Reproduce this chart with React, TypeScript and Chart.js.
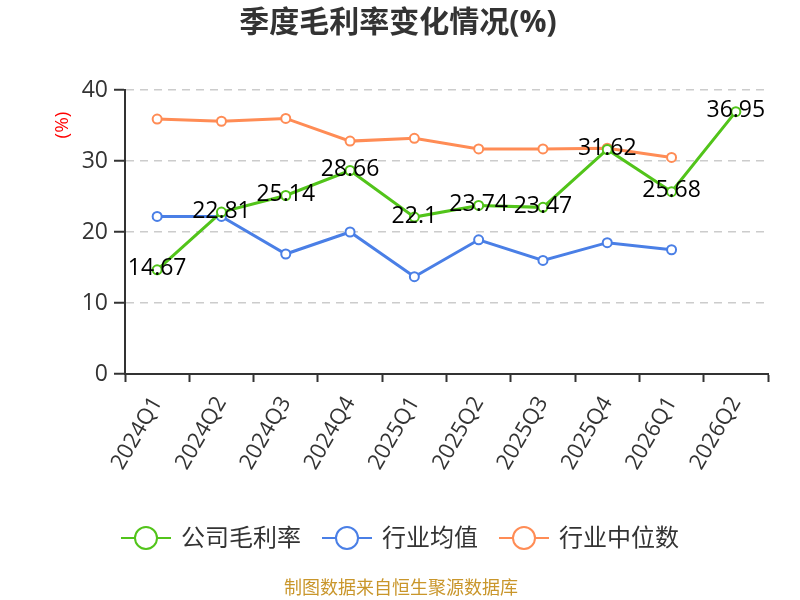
import React, { useEffect, useRef } from "react";
import { Chart, registerables } from "chart.js";

Chart.register(...registerables);

const categories = ["2024Q1", "2024Q2", "2024Q3", "2024Q4", "2025Q1", "2025Q2", "2025Q3", "2025Q4", "2026Q1", "2026Q2"];
const companyMargin = [14.67, 22.81, 25.14, 28.66, 22.1, 23.74, 23.47, 31.62, 25.68, 36.95];
const industryAvg = [22.2, 22.2, 16.9, 20.0, 13.7, 18.9, 16.0, 18.5, 17.5, null];
const industryMedian = [35.9, 35.6, 36.0, 32.8, 33.2, 31.7, 31.7, 31.8, 30.5, null];
const seriesNames = ["公司毛利率", "行业均值", "行业中位数"];
const seriesColors = ["#52C41A", "#4A7FE6", "#FF8C55"];
const titleText = "季度毛利率变化情况(%)";
const unitText = "(%)";
const footerText = "制图数据来自恒生聚源数据库";

const FONT = "'Open Sans', 'Noto Sans CJK SC', sans-serif";

const overlayPlugin = {
  id: "overlay",
  afterDatasetsDraw(chart: any) {
    const ctx = chart.ctx;
    const meta = chart.getDatasetMeta(0);
    ctx.save();
    ctx.font = `23px ${FONT}`;
    ctx.fillStyle = "#000";
    ctx.textAlign = "center";
    ctx.textBaseline = "middle";
    meta.data.forEach((pt: any, i: number) => {
      const v = companyMargin[i];
      if (v == null) return;
      ctx.fillText(String(v), pt.x, pt.y - 1);
    });
    ctx.restore();
  },
  afterDraw(chart: any) {
    const ctx = chart.ctx;
    ctx.save();
    // title
    ctx.font = `bold 30px ${FONT}`;
    ctx.fillStyle = "#333";
    ctx.textAlign = "center";
    ctx.textBaseline = "middle";
    ctx.fillText(titleText, 398, 23);
    // unit
    ctx.save();
    ctx.translate(63, 125);
    ctx.rotate(-Math.PI / 2);
    ctx.font = `19px ${FONT}`;
    ctx.fillStyle = "#ff0000";
    ctx.fillText(unitText, 0, 0);
    ctx.restore();
    // legend
    ctx.font = `24px ${FONT}`;
    const symW = 50;
    const gapText = 10;
    const gapItem = 21;
    const widths = seriesNames.map((n) => symW + gapText + ctx.measureText(n).width);
    const total = widths.reduce((a, b) => a + b, 0) + gapItem * (seriesNames.length - 1);
    let x = 400 - total / 2;
    const ly = 538;
    seriesNames.forEach((name, i) => {
      ctx.strokeStyle = seriesColors[i];
      ctx.lineWidth = 2;
      ctx.beginPath();
      ctx.moveTo(x, ly);
      ctx.lineTo(x + symW, ly);
      ctx.stroke();
      ctx.beginPath();
      ctx.arc(x + symW / 2, ly, 11, 0, Math.PI * 2);
      ctx.fillStyle = "#fff";
      ctx.fill();
      ctx.stroke();
      ctx.fillStyle = "#333";
      ctx.textAlign = "left";
      ctx.fillText(name, x + symW + gapText, ly + 1);
      x += widths[i] + gapItem;
    });
    // footer
    ctx.font = `18px ${FONT}`;
    ctx.fillStyle = "#C9962B";
    ctx.textAlign = "center";
    ctx.fillText(footerText, 401, 589);
    ctx.restore();
  },
};

export default function App() {
  const ref = useRef<HTMLCanvasElement>(null);
  useEffect(() => {
    if (!ref.current) return;
    const mk = (label: string, data: any[], color: string) => ({
      label,
      data,
      borderColor: color,
      backgroundColor: "#fff",
      borderWidth: 3,
      pointRadius: 4.5,
      pointBorderWidth: 2,
      pointBackgroundColor: "#fff",
      pointBorderColor: color,
      tension: 0,
      spanGaps: false,
    });
    const chart = new Chart(ref.current, {
      type: "line",
      data: {
        labels: categories,
        datasets: [
          mk(seriesNames[0], companyMargin, seriesColors[0]),
          mk(seriesNames[1], industryAvg, seriesColors[1]),
          mk(seriesNames[2], industryMedian, seriesColors[2]),
        ],
      },
      options: {
        responsive: false,
        animation: false,
        devicePixelRatio: 1,
        layout: { padding: { top: 90, left: 0, right: 32, bottom: 0 } },
        plugins: {
          legend: { display: false },
          title: { display: false },
          tooltip: { enabled: false },
        },
        scales: {
          x: {
            type: "category",
            offset: true,
            grid: {
              offset: true,
              drawOnChartArea: false,
              drawTicks: true,
              tickLength: 8,
              tickColor: "#333",
              tickWidth: 2,
            },
            border: { display: true, color: "#333", width: 2 },
            ticks: {
              color: "#333",
              font: { family: FONT, size: 22 },
              maxRotation: 60,
              minRotation: 60,
              autoSkip: false,
              padding: 10,
            },
            afterFit(scale: any) {
              scale.height = 226;
            },
          },
          y: {
            min: 0,
            max: 40,
            ticks: {
              stepSize: 10,
              color: "#333",
              font: { family: FONT, size: 23 },
              padding: 6,
            },
            grid: {
              color: "#cccccc",
              lineWidth: 1.5,
              tickColor: "#333",
              tickLength: 11,
              tickWidth: 2,
              tickBorderDash: [],
            },
            border: { display: true, color: "#333", width: 2, dash: [8, 6] },
            afterFit(scale: any) {
              scale.width = 125;
            },
          },
        },
      } as any,
      plugins: [overlayPlugin],
    });
    return () => chart.destroy();
  }, []);
  return (
    <div style={{ position: "absolute", left: 0, top: 0, width: 800, height: 600, background: "#fff" }}>
      <canvas ref={ref} width={800} height={600} style={{ width: 800, height: 600 }} />
    </div>
  );
}
